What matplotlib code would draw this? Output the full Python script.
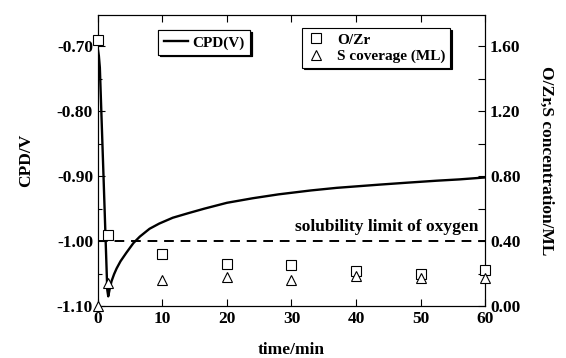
import numpy as np
import matplotlib.pyplot as plt
from matplotlib.ticker import MultipleLocator

plt.rcParams['font.family'] = ['Liberation Serif', 'DejaVu Serif']
plt.rcParams['font.weight'] = 'bold'
plt.rcParams['font.size'] = 12.5

# CPD transient (left axis)
cpd_t = [0, 0.15, 0.3, 0.9, 1.45, 1.6, 1.8, 2.1, 2.5, 2.9, 3.5, 4.4, 5.5, 6.5,
         8, 9.5, 11.6, 14, 16.5, 20, 24, 28, 33, 37, 43.7, 48, 52.5, 56, 60]
cpd_v = [-0.705, -0.715, -0.733, -0.91, -1.075, -1.085, -1.075, -1.062,
         -1.051, -1.042, -1.031, -1.018, -1.003, -0.993, -0.981, -0.973,
         -0.964, -0.957, -0.950, -0.941, -0.934, -0.928, -0.922, -0.918,
         -0.913, -0.910, -0.907, -0.905, -0.902]

# AES concentrations (right axis)
conc_t = [0, 1.5, 10, 20, 30, 40, 50, 60]
o_zr = [1.64, 0.44, 0.32, 0.26, 0.25, 0.215, 0.20, 0.22]
s_cov = [0.0, 0.14, 0.16, 0.18, 0.16, 0.185, 0.17, 0.17]

solubility = 0.40

fig = plt.figure(figsize=(5.66, 3.58), dpi=100)
ax = fig.add_axes([0.173, 0.145, 0.684, 0.813])
ax2 = ax.twinx()

ax.plot(cpd_t, cpd_v, color='black', lw=1.7, label='CPD(V)')
ax.set_xlim(0, 60)
ax.set_ylim(-1.10, -0.652)
ax2.set_ylim(0, (ax.get_ylim()[1] + 1.10) * 4)

ax2.plot(conc_t, o_zr, ls='none', marker='s', mfc='white', mec='black',
         ms=7, mew=0.8, label='O/Zr', clip_on=False, zorder=5)
ax2.plot(conc_t, s_cov, ls='none', marker='^', mfc='white', mec='black',
         ms=7, mew=0.8, label='S coverage (ML)', clip_on=False, zorder=5)
ax2.axhline(solubility, color='black', ls=(0, (5, 3.5)), lw=1.4)
ax2.text(59, solubility + 0.035, 'solubility limit of oxygen', ha='right',
         va='bottom', fontsize=12.5, fontweight='bold')

ax.set_xticks(range(0, 61, 10))
ax.yaxis.set_major_locator(MultipleLocator(0.10))
ax.yaxis.set_minor_locator(MultipleLocator(0.05))
ax.yaxis.set_major_formatter(lambda v, p: f'{v:.2f}')
ax2.yaxis.set_major_locator(MultipleLocator(0.40))
ax2.yaxis.set_minor_locator(MultipleLocator(0.20))
ax2.yaxis.set_major_formatter(lambda v, p: f'{v:.2f}')

ax.tick_params(axis='both', which='both', direction='in', top=True)
ax.tick_params(which='major', length=5, width=0.8)
ax.tick_params(which='minor', length=3, width=0.8)
ax2.tick_params(which='both', direction='in', length=5, width=0.8)
for a in (ax, ax2):
    for s in a.spines.values():
        s.set_linewidth(0.8)

ax.set_xlabel('time/min', fontweight='bold', labelpad=11)
ax.set_ylabel('CPD/V', fontweight='bold', labelpad=16)
ax2.set_ylabel('O/Zr,S concentration/ML', fontweight='bold', rotation=-90,
               labelpad=24)

shadow = {'ox': 1, 'oy': -1, 'color': 'black', 'alpha': 1}
leg1 = ax.legend(loc='upper left', bbox_to_anchor=(0.148, 0.958),
                 fancybox=False, edgecolor='black', framealpha=1,
                 handlelength=1.6, handletextpad=0.3, borderpad=0.35,
                 borderaxespad=0.2, fontsize=11, shadow=shadow)
leg1.get_frame().set_linewidth(0.8)
ax.add_artist(leg1)
leg2 = ax2.legend(loc='upper left', bbox_to_anchor=(0.52, 0.965),
                  fancybox=False, edgecolor='black', framealpha=1,
                  handlelength=1.2, borderpad=0.3, labelspacing=0.2,
                  borderaxespad=0.2, fontsize=11, shadow=shadow)
leg2.get_frame().set_linewidth(0.8)

fig.savefig('out.png', dpi=100)
